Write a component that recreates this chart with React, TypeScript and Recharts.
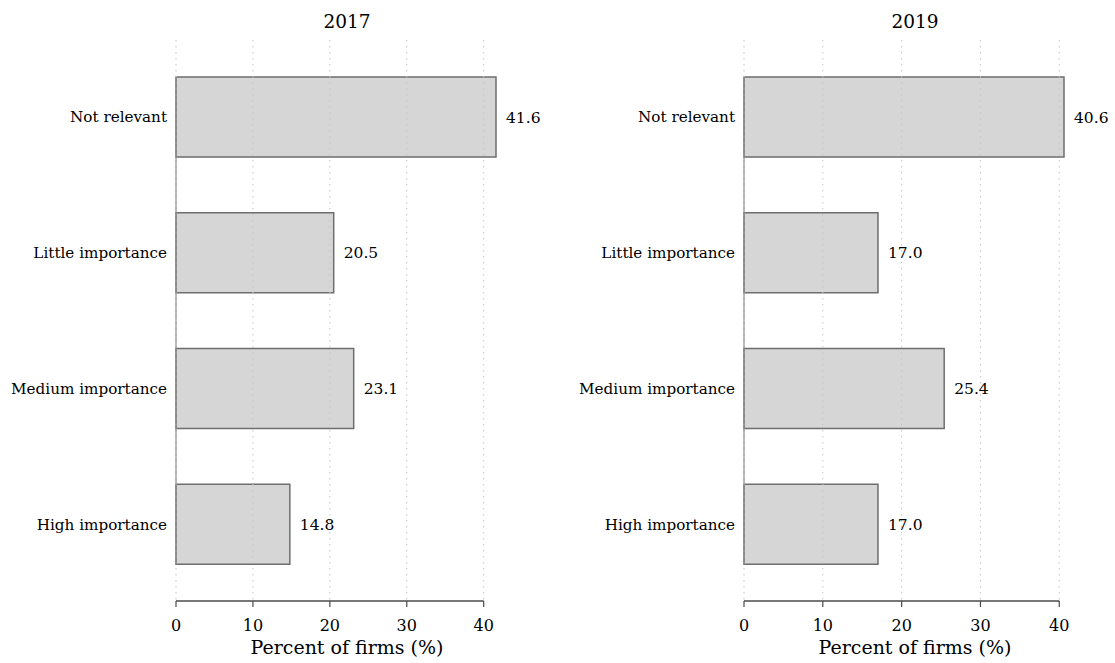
import { BarChart, Bar, XAxis, YAxis, LabelList, Label } from 'recharts';

const categories = ['Not relevant', 'Little importance', 'Medium importance', 'High importance'];
const values2017 = [41.6, 20.5, 23.1, 14.8];
const values2019 = [40.6, 17.0, 25.4, 17.0];
const xTicks = [0, 10, 20, 30, 40];
const axisTitle = 'Percent of firms (%)';

const FONT = '"DejaVu Serif", serif';
const Y_AXIS_W = 176;
const PLOT_TOP = 40;
const X_AXIS_H = 62;
const CHART_H = 663;
const BAR_SIZE = 80;
const Y_PAD = 9;
const BAND = (CHART_H - PLOT_TOP - X_AXIS_H - 2 * Y_PAD) / categories.length;

// tick mark, label, dotted grid line; the last tick also draws the axis line back to 0
function XTick(props: any) {
    const { x, y, payload } = props;
    const last = payload.value === xTicks[xTicks.length - 1];
    return (
        <g>
            <line x1={x} x2={x} y1={PLOT_TOP} y2={y} stroke="#c4c4c4" strokeDasharray="1.5 4.5" />
            {last && <line x1={Y_AXIS_W} x2={x} y1={y} y2={y} stroke="#4a4a4a" strokeWidth={1.5} />}
            <line x1={x} x2={x} y1={y} y2={y + 6} stroke="#4a4a4a" strokeWidth={1.2} />
            <text x={x} y={y + 30} textAnchor="middle" fontSize={16} fill="#000">
                {payload.value}
            </text>
        </g>
    );
}

// category label plus its piece of the y axis line (which stops at the outer bars)
function YTick(props: any) {
    const { x, y, payload, index } = props;
    const top = index === 0 ? y - BAR_SIZE / 2 : y - BAND / 2;
    const bottom = index === categories.length - 1 ? y + BAR_SIZE / 2 : y + BAND / 2;
    return (
        <g>
            <line x1={Y_AXIS_W} x2={Y_AXIS_W} y1={top} y2={bottom} stroke="#8c8c8c" strokeWidth={1.2} />
            <text x={x} y={y} dy="0.355em" textAnchor="end" fontSize={15.2} fill="#000">
                {payload.value}
            </text>
        </g>
    );
}

function Panel({ year, values, left, width, marginRight }: { year: string; values: number[]; left: number; width: number; marginRight: number }) {
    const data = categories.map((cat, i) => ({ cat, value: values[i] }));
    return (
        <div style={{ position: 'absolute', left, top: 0, width, height: CHART_H }}>
            <div style={{ position: 'absolute', left: 247, top: 9, width: 200, textAlign: 'center', fontSize: 18.5, lineHeight: '26px' }}>
                {year}
            </div>
            <BarChart
                width={width}
                height={CHART_H}
                data={data}
                layout="vertical"
                margin={{ top: PLOT_TOP, right: marginRight, left: 0, bottom: 0 }}
            >
                <XAxis
                    type="number"
                    domain={[0, 'dataMax']}
                    ticks={xTicks}
                    height={X_AXIS_H}
                    axisLine={false}
                    tickLine={false}
                    tickSize={0}
                    tickMargin={0}
                    tick={<XTick />}
                >
                    <Label value={axisTitle} position="insideBottom" offset={9} dx={11} fontSize={19} fill="#000" />
                </XAxis>
                <YAxis
                    type="category"
                    dataKey="cat"
                    width={Y_AXIS_W}
                    axisLine={false}
                    tickLine={false}
                    tickSize={0}
                    tickMargin={9}
                    padding={{ top: Y_PAD, bottom: Y_PAD }}
                    tick={<YTick />}
                />
                <Bar
                    dataKey="value"
                    barSize={BAR_SIZE}
                    fill="#d6d6d6"
                    stroke="#6e6e6e"
                    strokeWidth={1.5}
                    isAnimationActive={false}
                >
                    <LabelList
                        dataKey="value"
                        position="right"
                        offset={10}
                        fontSize={15.5}
                        fill="#000"
                        formatter={(v: any) => Number(v).toFixed(1)}
                    />
                </Bar>
            </BarChart>
        </div>
    );
}

export default function App() {
    return (
        <div style={{ position: 'absolute', left: 0, top: 0, width: 1115, height: CHART_H, fontFamily: FONT, background: '#fff', overflow: 'hidden' }}>
            <Panel year="2017" values={values2017} left={0} width={557} marginRight={61} />
            <Panel year="2019" values={values2019} left={568} width={547} marginRight={51} />
        </div>
    );
}
